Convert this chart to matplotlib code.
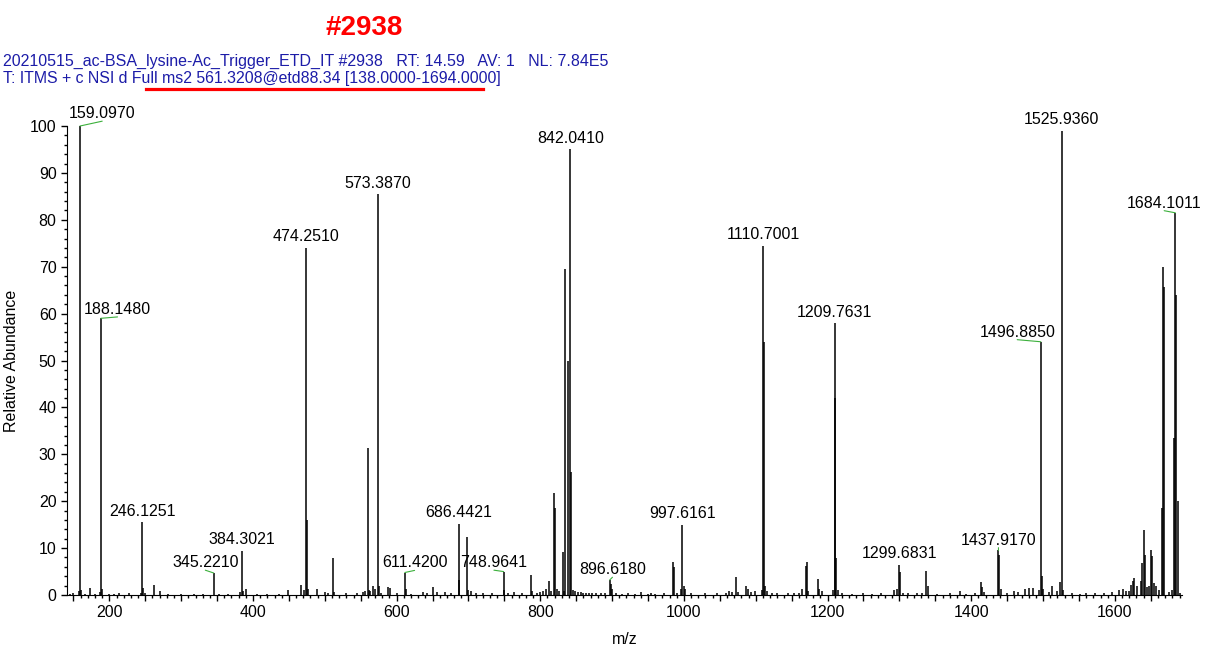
import matplotlib.pyplot as plt
from matplotlib.ticker import MultipleLocator, FuncFormatter

plt.rcParams['font.family'] = ['Liberation Sans', 'DejaVu Sans']

# spectrum #2938, centroid peaks (m/z, relative abundance)
mz = [
    145, 150, 157.5, 159.097, 160.1, 166, 173.5, 180, 186.5, 188.148, 189.1, 199, 207, 214, 228,
    244, 246.125, 247.1, 250, 261.5, 270, 281.5, 300, 318, 330, 345.221, 352, 365, 382, 384.302,
    386, 389.8, 405, 420, 436, 449, 466.6, 471, 474.251, 475.25, 477, 489, 500, 505, 511.6, 513,
    530, 545, 553, 556, 559.8, 561, 563.5, 567, 570, 573.387, 575.4, 578,
    588.6, 591, 600, 611.42, 613, 620, 636, 642, 650, 656, 668, 676, 686.442, 687.5, 697.6, 699,
    703, 710, 720, 733, 748.964, 750, 755, 763, 775, 786.5, 788, 795, 800, 804, 808, 812, 815,
    819, 820.5, 823, 826, 831, 833, 835, 838.5, 842.041, 843.3, 846, 849, 852, 856, 860, 864,
    868, 872, 878, 884, 890, 896.618, 898, 900, 906, 914, 922, 932, 940, 950, 953.6, 960, 972,
    984.6, 986.3, 990, 996, 997.616, 999.5, 1001.3, 1010, 1029, 1046, 1059, 1063, 1067, 1072.5,
    1075, 1087, 1089, 1093, 1099.5, 1108, 1110.7, 1111.8, 1113, 1115, 1122.8, 1130, 1145,
    1152.8, 1160, 1165, 1169.5, 1171, 1173, 1186, 1188, 1192, 1207, 1209.763, 1210.9, 1212.3,
    1215, 1220, 1234, 1250, 1262, 1275, 1292, 1297, 1299.683, 1301, 1305, 1312, 1325, 1332,
    1337.6, 1339.5, 1352, 1370, 1385, 1393, 1405, 1413, 1415, 1418, 1437.917, 1438.9, 1441,
    1450, 1460, 1465, 1475, 1480, 1486, 1494, 1496.885, 1498.3, 1500, 1508, 1512.5, 1520,
    1523.5, 1525.936, 1527.5, 1540, 1552, 1560, 1572, 1585, 1596, 1606, 1612, 1616, 1620,
    1622, 1625, 1627, 1631, 1636, 1638, 1640, 1641.5, 1645, 1648, 1649.7, 1651.6, 1654, 1657,
    1661, 1665, 1667.0, 1668.4, 1676, 1679, 1682.8, 1684.101, 1685.6, 1687.2, 1690,
]
intensity = [
    0.3, 0.4, 0.8, 100, 1.0, 0.3, 1.6, 0.3, 0.6, 59, 1.2, 0.3, 0.3, 0.4, 0.4,
    0.4, 15.5, 1.6, 0.4, 2.2, 0.8, 0.3, 0.3, 0.3, 0.3, 4.7, 0.3, 0.3, 0.6, 9.4,
    0.8, 1.2, 0.3, 0.3, 0.3, 1.1, 2.2, 1.0, 74, 16, 1.2, 1.3, 0.7, 0.5, 7.9, 0.6,
    0.4, 0.4, 0.6, 0.8, 31.3, 1.0, 0.8, 2.0, 1.3, 85.5, 2.0, 0.5,
    1.8, 1.5, 0.4, 4.8, 1.2, 0.3, 0.7, 0.4, 1.8, 0.6, 0.7, 0.5, 15.2, 3.3, 12.4, 1.0,
    0.8, 0.4, 0.5, 0.4, 5.0, 1.0, 0.5, 0.6, 0.5, 4.2, 0.8, 0.5, 0.7, 0.8, 1.2, 3.0, 0.8,
    21.8, 18.5, 1.2, 0.8, 9.2, 0.8, 69.5, 50, 95, 26.3, 1.0, 0.8, 0.7, 0.6, 0.5, 0.5,
    0.4, 0.5, 0.4, 0.5, 0.4, 3.2, 2.4, 1.2, 0.4, 0.3, 0.4, 0.3, 0.6, 0.3, 0.5, 0.3, 0.4,
    7.0, 6.0, 0.4, 1.2, 15, 1.9, 1.2, 0.4, 0.5, 0.5, 0.5, 0.8, 0.6, 3.9,
    0.6, 1.9, 1.2, 0.6, 0.8, 1.0, 74.5, 54, 2.0, 0.8, 0.5, 0.4, 0.5,
    0.5, 0.5, 1.2, 6.2, 7.0, 0.8, 3.4, 1.2, 0.8, 1.0, 58, 42, 7.8,
    1.0, 0.4, 0.3, 0.4, 0.3, 0.4, 1.0, 1.2, 6.5, 5.0, 0.5, 0.4, 0.4, 0.5,
    5.1, 2.0, 0.3, 0.4, 0.8, 0.3, 0.4, 2.8, 1.8, 0.6, 9.5, 8.5, 1.2,
    0.4, 0.8, 0.6, 1.3, 1.5, 1.6, 1.0, 54, 4.0, 1.2, 0.6, 2.0, 0.8,
    2.7, 99, 1.0, 0.4, 0.3, 0.4, 0.5, 0.4, 0.7, 1.0, 1.3, 0.9, 0.8,
    2.2, 3.0, 3.6, 2.0, 3.0, 6.8, 13.9, 8.5, 1.8, 2.0, 9.5, 8.3, 2.6, 2.0,
    1.0, 18.5, 70, 65.7, 0.6, 1.0, 33.5, 81.5, 64, 20, 0.4,
]

# labelled peaks and label offsets (points) relative to the peak top
labels = [159.0970, 188.1480, 246.1251, 345.2210, 384.3021, 474.2510, 573.3870, 611.4200,
          686.4421, 748.9641, 842.0410, 896.6180, 997.6161, 1110.7001, 1209.7631, 1299.6831,
          1437.9170, 1496.8850, 1525.9360, 1684.1011]
label_heights = [100, 59, 15.5, 4.7, 9.4, 74, 85.5, 4.8, 15.2, 5.0, 95, 3.2, 15, 74.5, 58,
                 6.5, 9.5, 54, 99, 81.5]
offsets = {159.0970: (16, 3.5), 188.1480: (12, 1), 345.2210: (-6, 2), 611.4200: (7, 1.5),
           748.9641: (-7, 1), 896.6180: (2, 2), 1437.9170: (0, 2), 1496.8850: (-17, 1.5),
           1684.1011: (-8, 1.5)}

fig = plt.figure(figsize=(12.09, 6.53), dpi=100)
ax = fig.add_axes([0.0554, 0.0888, 0.922, 0.7182])

ax.vlines(mz, 0, intensity, color='black', lw=1.1)

for m, h in zip(labels, label_heights):
    if m in offsets:
        dx, dy = offsets[m]
        ax.annotate(f'{m:.4f}', xy=(m, h), xytext=(dx, dy), textcoords='offset points',
                    ha='center', va='bottom', fontsize=11.5, annotation_clip=False,
                    arrowprops=dict(arrowstyle='-', color='#3cb03c', lw=0.8,
                                    relpos=(0.5, 0), shrinkA=0, shrinkB=0, patchA=None))
    else:
        ax.annotate(f'{m:.4f}', xy=(m, h), xytext=(0, 2.5), textcoords='offset points',
                    ha='center', va='bottom', fontsize=11.5, annotation_clip=False)

ax.set_xlim(141, 1693)
ax.set_ylim(0, 100)
for s in ['top', 'right']:
    ax.spines[s].set_visible(False)

ax.xaxis.set_major_locator(MultipleLocator(50))
ax.xaxis.set_minor_locator(MultipleLocator(10))
ax.xaxis.set_major_formatter(FuncFormatter(lambda v, p: f'{v:.0f}' if v % 200 == 0 else ''))
ax.yaxis.set_major_locator(MultipleLocator(10))
ax.yaxis.set_minor_locator(MultipleLocator(2))
ax.tick_params(which='major', direction='out', length=4, width=1, labelsize=11.5)
ax.tick_params(which='minor', direction='out', length=2.2, width=1)

ax.set_xlabel('m/z', fontsize=11.5, labelpad=8)
ax.set_ylabel('Relative Abundance', fontsize=11.5, labelpad=8)

fig.text(364 / 1209, 1 - 28 / 653, '#2938', color='red', fontsize=20, fontweight='bold',
         ha='center', va='center')
fig.text(3 / 1209, 1 - 61 / 653,
         '20210515_ac-BSA_lysine-Ac_Trigger_ETD_IT #2938   RT: 14.59   AV: 1   NL: 7.84E5',
         color='#1c1ca8', fontsize=11.5, ha='left', va='center')
fig.text(3 / 1209, 1 - 79 / 653,
         'T: ITMS + c NSI d Full ms2 561.3208@etd88.34 [138.0000-1694.0000]',
         color='#1c1ca8', fontsize=11.4, ha='left', va='center')
fig.add_artist(plt.Line2D([146 / 1209, 483 / 1209], [1 - 89 / 653, 1 - 89 / 653],
                          color='red', lw=2.3))

fig.savefig('out.png', dpi=100)
